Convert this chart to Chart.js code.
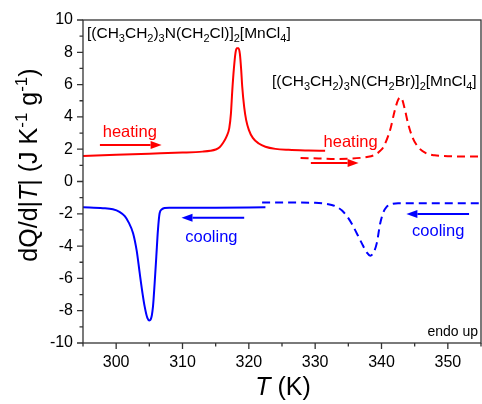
<!DOCTYPE html>
<html>
<head>
<meta charset="utf-8">
<script src="https://cdn.jsdelivr.net/npm/chart.js@4.4.0/dist/chart.umd.min.js"></script>
<style>
  html, body { margin: 0; padding: 0; background: #fff; }
  #wrap { width: 482px; height: 404px; }
</style>
</head>
<body>
<div id="wrap"><canvas id="chart" width="482" height="404"></canvas></div>
<script>
// Cl compound, heating (solid red)
const clHeatT = [295, 300, 305, 310, 313, 314.2, 315, 315.6, 316.1, 316.6, 317.05, 317.3, 317.5, 317.75, 318.0, 318.2, 318.45, 318.65, 318.85, 319.0, 319.3, 319.6, 320.0, 320.6, 321.5, 322.5, 324, 326, 329, 331.5];
const clHeatQ = [1.58, 1.65, 1.72, 1.79, 1.85, 1.9, 1.98, 2.12, 2.38, 2.75, 3.3, 4.2, 5.6, 7.0, 8.0, 8.25, 8.25, 7.9, 6.9, 5.9, 4.6, 3.8, 3.2, 2.7, 2.35, 2.15, 2.02, 1.96, 1.92, 1.9];
// Cl compound, cooling (solid blue)
const clCoolT = [295, 298, 299.5, 300.5, 301.3, 301.9, 302.55, 303.1, 303.55, 304.0, 304.3, 304.7, 305.0, 305.2, 305.55, 305.8, 306.05, 306.3, 306.55, 306.9, 307.3, 308, 310, 315, 322.5];
const clCoolQ = [-1.6, -1.65, -1.72, -1.88, -2.15, -2.55, -3.2, -4.3, -5.68, -7.0, -7.75, -8.45, -8.6, -8.55, -7.75, -6.3, -4.66, -3.0, -1.97, -1.72, -1.64, -1.62, -1.62, -1.62, -1.6];
// Br compound, heating (dashed red)
const brHeatT = [327.8, 330.5, 333, 335.5, 337, 338, 338.8, 339.3, 339.8, 340.3, 341.3, 342.0, 342.5, 342.8, 343.1, 343.5, 344.0, 344.7, 345.5, 346.5, 348, 350, 352, 355];
const brHeatQ = [1.45, 1.43, 1.4, 1.42, 1.47, 1.53, 1.62, 1.72, 1.9, 2.15, 3.19, 4.4, 5.05, 5.2, 5.1, 4.5, 3.6, 2.7, 2.15, 1.8, 1.62, 1.57, 1.55, 1.55];
// Br compound, cooling (dashed blue)
const brCoolT = [322, 326, 330, 332.5, 333.3, 334.05, 334.8, 335.5, 337.0, 337.8, 338.3, 338.8, 339.3, 339.8, 340.3, 340.8, 341.5, 342.5, 346, 350, 355];
const brCoolQ = [-1.3, -1.3, -1.32, -1.45, -1.58, -1.8, -2.15, -2.6, -3.8, -4.4, -4.6, -4.4, -3.8, -2.6, -1.9, -1.56, -1.4, -1.35, -1.35, -1.35, -1.35];

const xTickValues = [300, 310, 320, 330, 340, 350];
const yTickValues = [-10, -8, -6, -4, -2, 0, 2, 4, 6, 8, 10];

const FONT = '"Liberation Sans", Arial, sans-serif';
const RED = '#ff0000';
const BLUE = '#0000ff';

function pts(xs, ys) {
  return xs.map(function (x, i) { return { x: x, y: ys[i] }; });
}

function fontFor(kind, size) {
  if (kind === 'sub' || kind === 'sup') return Math.round(size * 0.68) + 'px ' + FONT;
  if (kind === 'i') return 'italic ' + size + 'px ' + FONT;
  return size + 'px ' + FONT;
}

// draws text runs with sub/superscripts, y = baseline
function drawRich(ctx, parts, x, y, size, align, color) {
  var total = 0;
  parts.forEach(function (p) {
    ctx.font = fontFor(p[1], size);
    total += ctx.measureText(p[0]).width;
  });
  var cx = align === 'center' ? x - total / 2 : (align === 'right' ? x - total : x);
  ctx.fillStyle = color || '#000';
  ctx.textAlign = 'left';
  ctx.textBaseline = 'alphabetic';
  parts.forEach(function (p) {
    ctx.font = fontFor(p[1], size);
    var dy = 0;
    if (p[1] === 'sub') dy = size * 0.28;
    if (p[1] === 'sup') dy = -size * 0.42;
    ctx.fillText(p[0], cx, y + dy);
    cx += ctx.measureText(p[0]).width;
  });
}

function drawArrow(ctx, x1, x2, y, color) {
  var dir = x2 > x1 ? 1 : -1;
  var head = 11;
  ctx.strokeStyle = color;
  ctx.fillStyle = color;
  ctx.lineWidth = 2;
  ctx.beginPath();
  ctx.moveTo(x1, y);
  ctx.lineTo(x2 - dir * head, y);
  ctx.stroke();
  ctx.beginPath();
  ctx.moveTo(x2, y);
  ctx.lineTo(x2 - dir * head, y - 4);
  ctx.lineTo(x2 - dir * head, y + 4);
  ctx.closePath();
  ctx.fill();
}

const clLabel = [['[(CH', ''], ['3', 'sub'], ['CH', ''], ['2', 'sub'], [')', ''], ['3', 'sub'], ['N(CH', ''], ['2', 'sub'], ['Cl)]', ''], ['2', 'sub'], ['[MnCl', ''], ['4', 'sub'], [']', '']];
const brLabel = [['[(CH', ''], ['3', 'sub'], ['CH', ''], ['2', 'sub'], [')', ''], ['3', 'sub'], ['N(CH', ''], ['2', 'sub'], ['Br)]', ''], ['2', 'sub'], ['[MnCl', ''], ['4', 'sub'], [']', '']];
const yTitle = [['dQ', ''], ['/d|', ''], ['T', 'i'], ['| (J K', ''], ['-1', 'sup'], [' g', ''], ['-1', 'sup'], [')', '']];

const decorPlugin = {
  id: 'decor',
  afterDatasetsDraw: function (chart) {
    var ctx = chart.ctx;
    var xs = chart.scales.x, ys = chart.scales.y;
    var a = chart.chartArea;
    ctx.save();

    // frame
    ctx.strokeStyle = '#333';
    ctx.lineWidth = 1.3;
    ctx.strokeRect(a.left, a.top, a.right - a.left, a.bottom - a.top);

    // tick marks, major and minor
    ctx.beginPath();
    for (var t = 295; t <= 355; t += 5) {
      var px = xs.getPixelForValue(t);
      var len = xTickValues.indexOf(t) >= 0 ? 6 : 3.5;
      ctx.moveTo(px, a.bottom);
      ctx.lineTo(px, a.bottom + len);
    }
    for (var v = -10; v <= 10; v += 1) {
      var py = ys.getPixelForValue(v);
      var l2 = yTickValues.indexOf(v) >= 0 ? 6 : 3.5;
      ctx.moveTo(a.left, py);
      ctx.lineTo(a.left - l2, py);
    }
    ctx.stroke();

    // arrows and words
    var X = function (v) { return xs.getPixelForValue(v); };
    var Y = function (v) { return ys.getPixelForValue(v); };
    drawArrow(ctx, X(297.55), X(306.85), Y(2.26), RED);
    drawArrow(ctx, X(319.3), X(309.85), Y(-2.24), BLUE);
    drawArrow(ctx, X(329.35), X(336.55), Y(1.15), RED);
    drawArrow(ctx, X(353.2), X(343.75), Y(-2.01), BLUE);
    drawRich(ctx, [['heating', '']], X(302.05), Y(3.13) + 6, 16.5, 'center', RED);
    drawRich(ctx, [['cooling', '']], X(314.35), Y(-3.37) + 6, 16.5, 'center', BLUE);
    drawRich(ctx, [['heating', '']], X(335.35), Y(2.5) + 6, 16.5, 'center', RED);
    drawRich(ctx, [['cooling', '']], X(348.55), Y(-3.0) + 6, 16.5, 'center', BLUE);

    // compound labels
    drawRich(ctx, clLabel, X(295.6), Y(9.2) + 5, 15.5, 'left', '#000');
    drawRich(ctx, brLabel, X(323.5), Y(6.22) + 5, 15.5, 'left', '#000');
    drawRich(ctx, [['endo up', '']], a.right - 3, a.bottom - 7, 14, 'right', '#000');

    // axis titles
    drawRich(ctx, [['T', 'i'], [' (K)', '']], (a.left + a.right) / 2 + 1, 395, 25, 'center', '#000');
    ctx.translate(37, 165);
    ctx.rotate(-Math.PI / 2);
    drawRich(ctx, yTitle, 0, 0, 25, 'center', '#000');
    ctx.restore();
  }
};

var ctx = document.getElementById('chart').getContext('2d');
var myChart = new Chart(ctx, {
  type: 'line',
  data: {
    datasets: [
      { label: 'Cl heating', data: pts(clHeatT, clHeatQ), borderColor: RED },
      { label: 'Cl cooling', data: pts(clCoolT, clCoolQ), borderColor: BLUE },
      { label: 'Br heating', data: pts(brHeatT, brHeatQ), borderColor: RED, borderDash: [8, 5] },
      { label: 'Br cooling', data: pts(brCoolT, brCoolQ), borderColor: BLUE, borderDash: [8, 5] },
    ],
  },
  options: {
    responsive: false,
    animation: false,
    devicePixelRatio: 1,
    layout: { padding: { top: 20, right: 1, left: 0, bottom: 0 } },
    elements: {
      point: { radius: 0 },
      line: { borderWidth: 2, fill: false, cubicInterpolationMode: 'monotone' },
    },
    plugins: { legend: { display: false }, tooltip: { enabled: false } },
    scales: {
      x: {
        type: 'linear',
        min: 295,
        max: 355,
        afterBuildTicks: function (s) { s.ticks = xTickValues.map(function (v) { return { value: v }; }); },
        afterFit: function (s) { s.height = 61; },
        grid: { display: false, drawTicks: false },
        border: { display: false },
        ticks: { padding: 10, color: '#000', font: { family: FONT, size: 16 }, maxRotation: 0 },
      },
      y: {
        min: -10,
        max: 10,
        afterBuildTicks: function (s) { s.ticks = yTickValues.map(function (v) { return { value: v }; }); },
        afterFit: function (s) { s.width = 83; },
        grid: { display: false, drawTicks: false },
        border: { display: false },
        ticks: { padding: 10, color: '#000', font: { family: FONT, size: 16 } },
      },
    },
  },
  plugins: [decorPlugin],
});
</script>
</body>
</html>
